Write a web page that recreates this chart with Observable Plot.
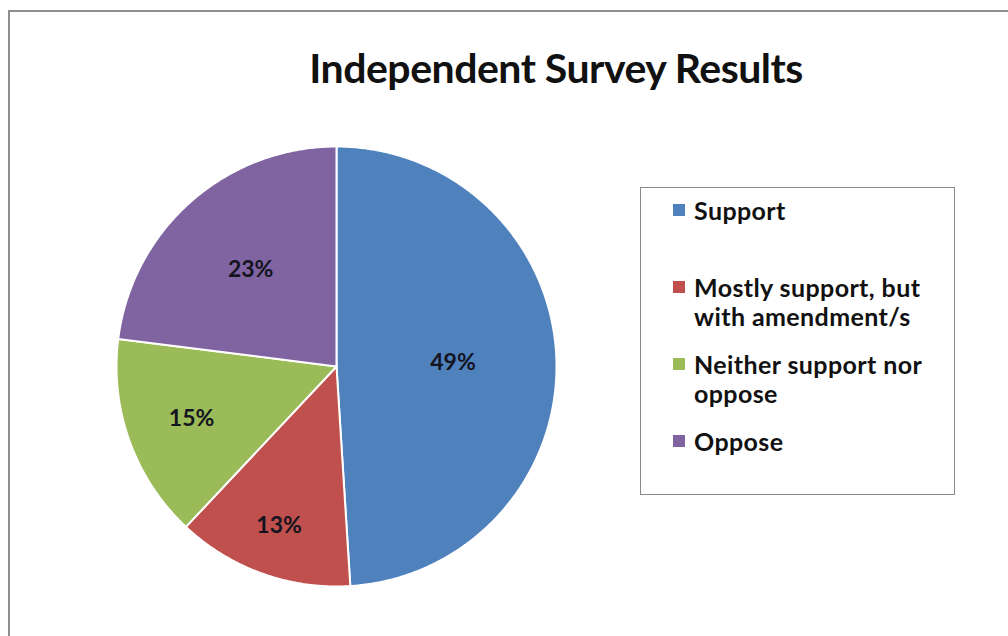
<!DOCTYPE html>
<html><head><meta charset="utf-8">
<script src="https://cdn.jsdelivr.net/npm/d3@7"></script>
<script src="https://cdn.jsdelivr.net/npm/@observablehq/plot@0.6"></script>
<style>
html,body{margin:0;padding:0;background:#fff;}
#wrap{position:relative;width:1008px;height:636px;overflow:hidden;font-family:Lato,"Open Sans",sans-serif;font-weight:700;color:#111;}
#frame{position:absolute;left:8px;top:10px;width:1100px;height:700px;border:2px solid #8e8e8e;box-sizing:border-box;}
#chart{position:absolute;left:0;top:0;}
#title{position:absolute;left:0;width:1112px;top:43px;text-align:center;font-size:41px;line-height:50px;letter-spacing:-0.5px;}
#legend{position:absolute;left:640px;top:187px;width:315px;height:308px;border:1px solid #8a8a8a;box-sizing:border-box;background:#fff;}
.item{position:absolute;left:53px;width:262px;font-size:25px;line-height:29px;letter-spacing:0.4px;white-space:nowrap;}
.sw{position:absolute;left:-21px;top:8px;width:12px;height:12px;}
</style></head>
<body>
<div id="wrap">
  <div id="frame"></div>
  <div id="chart"></div>
  <div id="title"></div>
  <div id="legend"></div>
</div>
<script>
// ---- data ----
const titleText = "Independent Survey Results";
const categories = ["Support", "Mostly support, but with amendment/s", "Neither support nor oppose", "Oppose"];
const legendLines = [["Support"], ["Mostly support, but", "with amendment/s"], ["Neither support nor", "oppose"], ["Oppose"]];
const values = [49, 13, 15, 23];
const labels = ["49%", "13%", "15%", "23%"];
const colors = ["#4f81bd", "#c0504d", "#9bbb59", "#8064a2"];

// ---- layout (not data) ----
const labelRadius = [0.53, 0.77, 0.70, 0.59];
const W = 1008, H = 636;
const cx = 336, cy = 366, R = 220;

const arcs = d3.pie().sort(null).value(d => d)(values);
const slices = [];
arcs.forEach((a, i) => {
  const n = Math.max(2, Math.ceil((a.endAngle - a.startAngle) / (Math.PI / 360)));
  slices.push({cat: categories[i], x: 0, y: 0});
  for (let k = 0; k <= n; k++) {
    const t = a.startAngle + (a.endAngle - a.startAngle) * k / n;
    slices.push({cat: categories[i], x: Math.sin(t), y: Math.cos(t)});
  }
  slices.push({cat: categories[i], x: 0, y: 0});
});
const labelData = arcs.map((a, i) => {
  const m = (a.startAngle + a.endAngle) / 2;
  return {label: labels[i], x: labelRadius[i] * Math.sin(m), y: labelRadius[i] * Math.cos(m)};
});

const plot = Plot.plot({
  width: W, height: H,
  marginLeft: cx - R, marginRight: W - (cx + R),
  marginTop: cy - R, marginBottom: H - (cy + R),
  x: {domain: [-1, 1], axis: null},
  y: {domain: [-1, 1], axis: null},
  color: {domain: categories, range: colors},
  style: {background: "transparent", overflow: "visible"},
  marks: [
    Plot.line(slices, {x: "x", y: "y", z: "cat", fill: "cat", stroke: "white", strokeWidth: 2, strokeLinejoin: "round"}),
    Plot.text(labelData, {x: "x", y: "y", text: "label", fontSize: 23, fontWeight: "bold", fill: "#141420", fontFamily: "Lato, 'Open Sans', sans-serif"})
  ]
});
document.getElementById("chart").appendChild(plot);
document.getElementById("title").textContent = titleText;

const legend = document.getElementById("legend");
legendLines.forEach((lines, i) => {
  const it = document.createElement("div");
  it.className = "item";
  it.style.top = (8 + i * 77) + "px";
  it.innerHTML = lines.join("<br>");
  const sw = document.createElement("div");
  sw.className = "sw";
  sw.style.background = colors[i];
  it.appendChild(sw);
  legend.appendChild(it);
});
</script>
</body></html>
